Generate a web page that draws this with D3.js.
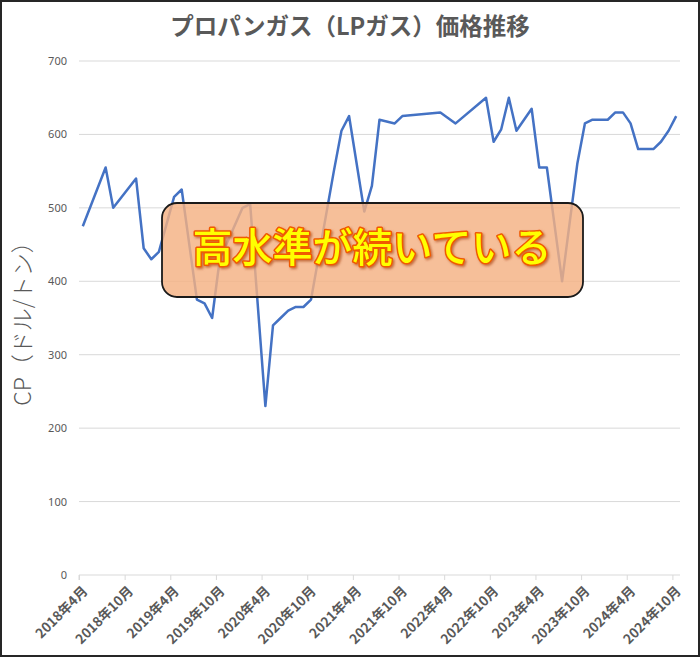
<!DOCTYPE html>
<html><head><meta charset="utf-8">
<script src="https://cdn.jsdelivr.net/npm/d3@7"></script>
<style>
html,body{margin:0;padding:0;background:#fff;}
svg{display:block;}
</style></head>
<body>
<svg id="chart" width="700" height="657"></svg>
<script>
// ---- data ----
const months = ["2018-04","2018-07","2018-08","2018-11","2018-12","2019-01","2019-02","2019-04","2019-05","2019-07","2019-08","2019-09","2019-10","2020-01","2020-02","2020-04","2020-05","2020-06","2020-07","2020-08","2020-09","2020-10","2021-01","2021-02","2021-03","2021-05","2021-06","2021-07","2021-09","2021-10","2022-03","2022-05","2022-09","2022-10","2022-11","2022-12","2023-01","2023-03","2023-04","2023-05","2023-07","2023-09","2023-10","2023-11","2024-01","2024-02","2024-03","2024-04","2024-05","2024-07","2024-08","2024-09","2024-10"];
const values = [475,555,500,540,445,430,440,515,525,375,370,350,430,500,505,230,340,350,360,365,365,375,550,605,625,495,530,620,615,625,630,615,650,590,607,650,605,635,555,555,400,560,615,620,620,630,630,615,580,580,590,605,625];
const tickLabels = ["2018年4月","2018年10月","2019年4月","2019年10月","2020年4月","2020年10月","2021年4月","2021年10月","2022年4月","2022年10月","2023年4月","2023年10月","2024年4月","2024年10月"];
const yTicks = [0,100,200,300,400,500,600,700];
const title = "プロパンガス（LPガス）価格推移";
const yTitle = "CP（ドル/トン）";
const note = "高水準が続いている";

// ---- layout ----
const W = 700, H = 657;
const plot = {left: 79, right: 680, top: 61, bottom: 575};
const grey = "#595959";
const svg = d3.select("#chart");

const monthIndex = s => { const [y,m] = s.split("-").map(Number); return (y-2018)*12 + (m-4); };
const x = d3.scaleLinear().domain([0, 79]).range([plot.left, plot.right]);
const y = d3.scaleLinear().domain([0, 700]).range([plot.bottom, plot.top]);

// outer border
svg.append("rect").attr("x",1).attr("y",1).attr("width",W-2).attr("height",H-2)
  .attr("fill","#fff").attr("stroke","#262626").attr("stroke-width",2);

// gridlines
svg.append("g").selectAll("line").data(yTicks.filter(d=>d>0)).join("line")
  .attr("x1",plot.left).attr("x2",plot.right)
  .attr("y1",d=>y(d)).attr("y2",d=>y(d))
  .attr("stroke","#d9d9d9").attr("stroke-width",1);

// y axis labels
const yAxis = d3.axisLeft(y).tickValues(yTicks).tickSize(0).tickPadding(12);
const yg = svg.append("g").attr("transform",`translate(${plot.left},0)`).call(yAxis);
yg.select(".domain").remove();
yg.selectAll("text").attr("fill",grey).style("font-family","'Noto Sans', sans-serif").style("font-size","11px");

// x axis
const tickPos = tickLabels.map((d,i)=>i*6);
const xAxis = d3.axisBottom(x).tickValues(tickPos).tickSize(5).tickFormat(()=>"");
const xg = svg.append("g").attr("transform",`translate(0,${plot.bottom})`).call(xAxis);
xg.select(".domain").attr("stroke","#d9d9d9").attr("d",`M${plot.left},5V0H${plot.right}`);
xg.selectAll(".tick line").attr("stroke","#d9d9d9");
xg.selectAll(".tick").append("text")
  .text((d,i)=>tickLabels[i])
  .attr("text-anchor","end")
  .attr("transform","translate(9,17) rotate(-45)")
  .attr("fill",grey)
  .style("font-family","'Noto Sans CJK JP', sans-serif")
  .style("font-weight","bold")
  .style("font-size","13.5px");

// line
const pts = months.map((m,i)=>({x: monthIndex(m)+0.5, v: values[i]}));
svg.append("path").datum(pts)
  .attr("fill","none").attr("stroke","#4472C4").attr("stroke-width",2.5)
  .attr("stroke-linejoin","round")
  .attr("d", d3.line().x(d=>x(d.x)).y(d=>y(d.v)));

// title
svg.append("text").attr("x",350).attr("y",35).attr("text-anchor","middle")
  .attr("fill",grey).style("font-family","'Noto Sans CJK JP', sans-serif")
  .style("font-weight","bold").style("font-size","23.5px").text(title);

// y title
svg.append("text").attr("transform","translate(31,318) rotate(-90)").attr("text-anchor","middle")
  .attr("fill",grey).style("font-family","'Noto Sans CJK JP', sans-serif")
  .style("font-weight","300").style("font-size","23px").text(yTitle);

// annotation box
const defs = svg.append("defs");
const f = defs.append("filter").attr("id","sh").attr("x","-10%").attr("y","-30%").attr("width","120%").attr("height","160%");
f.append("feDropShadow").attr("dx",1.5).attr("dy",1.5).attr("stdDeviation",1.2).attr("flood-color","#a03000").attr("flood-opacity",0.6);

svg.append("rect").attr("x",162).attr("y",203).attr("width",421).attr("height",94)
  .attr("rx",15).attr("ry",15)
  .attr("fill","#F4B183").attr("fill-opacity",0.82)
  .attr("stroke","#1a1a1a").attr("stroke-width",1.8);

svg.append("text").attr("x",372).attr("y",262).attr("text-anchor","middle")
  .attr("fill","#FFFF00").attr("stroke","#F05a00").attr("stroke-width",3)
  .attr("paint-order","stroke").attr("stroke-linejoin","round")
  .attr("filter","url(#sh)")
  .style("font-family","'Noto Sans CJK JP', sans-serif").style("font-weight","500")
  .style("font-size","40px").text(note);
</script>
</body></html>
